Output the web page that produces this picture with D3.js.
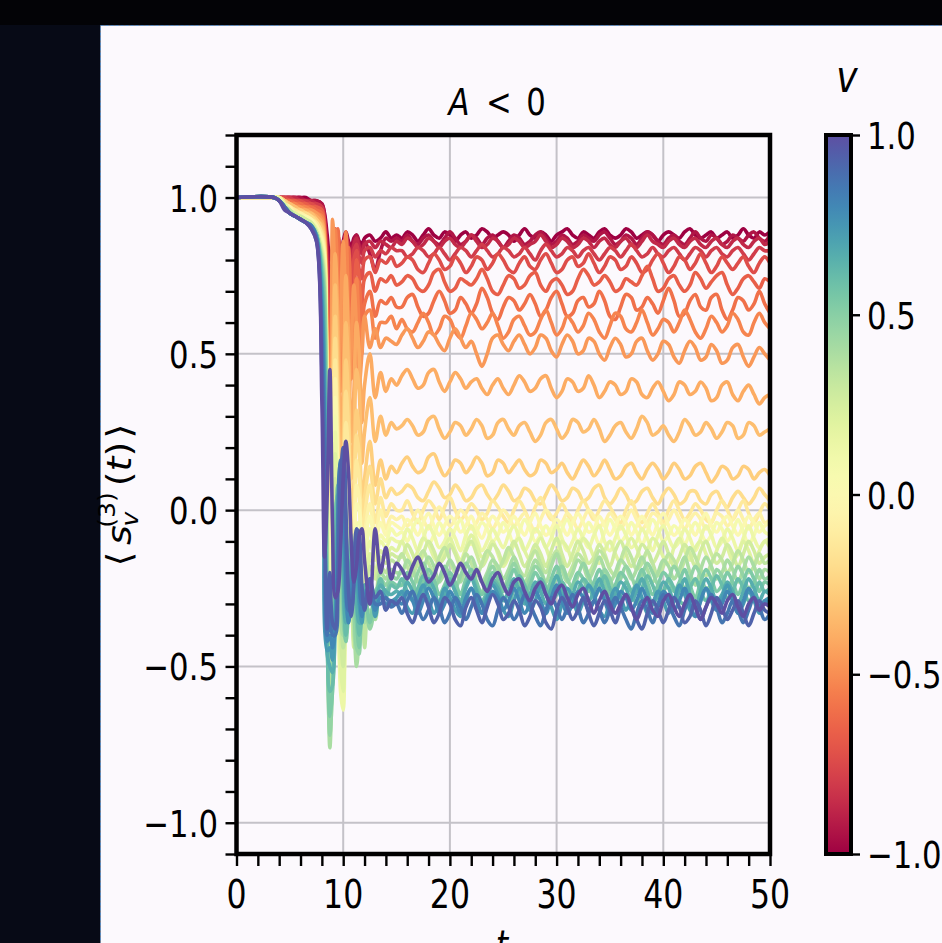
<!DOCTYPE html>
<html>
<head>
<meta charset="utf-8">
<script src="https://cdn.jsdelivr.net/npm/d3@7"></script>
<style>
  html, body { margin: 0; padding: 0; background: #070a16; }
  svg { display: block; }
</style>
</head>
<body>
<svg id="chart" width="942" height="943"></svg>
<script>
// ---- sampling times (t) ----
const times = [0, 3.5, 4, 4.5, 5, 5.5, 6, 6.5, 7, 7.5, 8,
  8.25, 8.5, 8.75, 9, 9.25, 9.5, 9.75, 10, 10.25, 10.5, 10.75, 11, 11.25, 11.5, 11.75, 12,
  12.5, 13, 13.5, 14, 14.5, 15,
  15.5, 16, 16.5, 17, 17.5, 18, 18.5, 19, 19.5, 20,
  20.5, 21, 21.5, 22, 22.5, 23, 23.5, 24, 24.5, 25,
  25.5, 26, 26.5, 27, 27.5, 28, 28.5, 29, 29.5, 30,
  30.5, 31, 31.5, 32, 32.5, 33, 33.5, 34, 34.5, 35,
  35.5, 36, 36.5, 37, 37.5, 38, 38.5, 39, 39.5, 40,
  40.5, 41, 41.5, 42, 42.5, 43, 43.5, 44, 44.5, 45,
  45.5, 46, 46.5, 47, 47.5, 48, 48.5, 49, 49.5, 50];

// ---- velocity of each trace (colour) ----
const vValues = [-1.000, -0.933, -0.867, -0.800, -0.733, -0.667, -0.600, -0.533, -0.467, -0.400,
  -0.333, -0.267, -0.200, -0.133, -0.067, 0.000, 0.067, 0.133, 0.200, 0.267,
  0.333, 0.400, 0.467, 0.533, 0.600, 0.667, 0.733, 0.800, 0.867, 0.933, 1.000];

// ---- <s_v^(3)(t)> in hundredths: onset, t = 0 .. 8 ----
const onset = [
  [100,100,100,100,100,100,100,100,99,99,98],
  [100,100,100,100,100,100,100,99,99,99,98],
  [100,100,100,100,100,100,99,99,99,98,97],
  [100,100,100,100,100,99,99,99,98,98,97],
  [100,100,100,100,99,99,99,98,98,97,96],
  [100,100,100,99,99,99,98,98,97,97,96],
  [100,100,100,99,99,98,98,97,97,96,95],
  [100,100,100,99,98,98,97,97,96,95,94],
  [100,100,100,99,98,97,97,96,96,95,93],
  [100,100,100,99,98,97,96,96,95,94,92],
  [100,100,100,99,98,97,96,95,95,93,91],
  [100,100,100,99,97,96,96,95,94,93,90],
  [100,100,100,98,97,96,95,95,94,92,89],
  [100,100,100,98,97,96,95,94,93,92,88],
  [100,100,100,98,97,95,95,94,93,91,87],
  [100,100,100,98,96,95,94,94,93,91,86],
  [100,100,100,98,96,95,94,93,92,90,85],
  [100,100,100,98,96,95,94,93,92,90,84],
  [100,100,99,98,96,95,94,93,92,89,83],
  [100,100,99,97,96,94,94,93,92,89,82],
  [100,100,99,97,96,94,93,92,91,89,81],
  [100,100,99,97,95,94,93,92,91,88,80],
  [100,100,99,97,95,94,93,92,91,88,79],
  [100,100,99,97,95,94,93,92,91,88,77],
  [100,100,99,97,95,94,93,92,91,88,75],
  [100,100,99,97,95,94,93,92,91,88,72],
  [100,100,99,97,95,94,93,92,91,87,68],
  [100,100,99,97,95,94,93,92,91,87,62],
  [100,100,99,97,95,94,93,92,91,87,55],
  [100,100,99,97,95,94,93,92,90,86,45],
  [100,100,99,96,95,94,93,92,90,86,35]
];

// ---- ringing after the quench, t = 8.25 .. 15 ----
const ring = [
  [95,88,80,84,90,88,83,86,89,86,84,87,88,86,85,87,88,86,87,89,87,88],
  [94,84,74,80,89,87,80,84,88,85,82,86,88,85,83,86,82,77,83,87,86,87],
  [93,80,68,76,88,86,77,82,88,84,80,85,87,84,82,85,86,84,86,85,84,86],
  [92,75,60,70,86,85,73,79,87,82,77,83,85,81,79,83,84,81,83,82,84,83],
  [91,70,52,64,84,86,70,74,85,80,72,80,83,77,74,80,81,76,80,79,81,78],
  [90,64,42,58,82,88,68,62,80,82,66,70,80,74,66,74,76,70,74,73,75,72],
  [89,58,32,48,80,90,66,50,72,84,62,56,74,72,58,66,70,62,67,66,68,65],
  [88,52,22,55,90,74,38,62,89,64,42,62,74,58,50,62,64,55,60,60,62,58],
  [87,45,40,93,70,30,60,86,62,34,52,72,58,40,50,62,52,58,52,55,54,53],
  [86,40,10,50,82,60,18,40,75,55,22,38,60,50,28,40,50,36,44,38,42,40],
  [85,35,-5,40,72,45,2,25,60,45,10,22,45,38,15,25,36,22,30,24,28,26],
  [84,30,-15,30,62,35,-12,10,48,35,-5,8,32,25,2,10,22,8,16,10,14,12],
  [83,25,-25,20,55,25,-22,0,38,26,-12,0,24,18,-4,4,14,2,10,4,7,5],
  [82,20,-32,10,48,15,-30,-12,28,18,-20,-8,16,10,-10,-2,8,-4,4,-2,2,0],
  [81,15,-38,2,42,8,-38,-25,20,12,-25,-15,8,4,-15,-8,2,-8,0,-6,-2,-3],
  [80,10,-42,-6,36,2,-45,-40,10,8,-28,-22,2,0,-20,-12,-2,-10,-4,-8,-4,-5],
  [79,5,-46,-12,30,-4,-52,-55,0,4,-30,-30,-5,-4,-24,-16,-6,-14,-8,-10,-6,-8],
  [78,0,-50,-18,25,-8,-58,-64,-10,0,-30,-36,-12,-8,-28,-22,-10,-16,-10,-12,-9,-10],
  [76,-8,-56,-26,18,-6,-50,-58,-20,-6,-26,-42,-22,-12,-30,-30,-14,-20,-13,-15,-12,-13],
  [74,-15,-62,-34,10,-4,-40,-50,-30,-10,-20,-44,-34,-18,-30,-38,-18,-22,-15,-17,-14,-15],
  [72,-22,-68,-42,2,0,-30,-44,-36,-14,-14,-40,-46,-26,-28,-44,-24,-28,-18,-20,-16,-17],
  [70,-30,-76,-50,-8,5,-20,-40,-40,-18,-10,-34,-50,-40,-28,-36,-32,-35,-20,-22,-19,-20],
  [68,-36,-72,-56,-16,8,-12,-36,-42,-22,-8,-28,-44,-46,-30,-30,-38,-30,-22,-24,-21,-22],
  [65,-40,-66,-58,-22,8,-4,-30,-42,-26,-10,-22,-36,-44,-32,-26,-36,-26,-24,-26,-23,-24],
  [55,-42,-58,-56,-28,5,4,-22,-40,-30,-12,-18,-30,-40,-34,-24,-30,-28,-22,-28,-24,-25],
  [45,-46,-50,-52,-32,0,10,-12,-36,-34,-16,-14,-24,-36,-36,-24,-28,-32,-24,-26,-27,-26],
  [35,-45,-44,-48,-35,-6,14,-2,-30,-36,-22,-12,-18,-30,-36,-26,-26,-34,-26,-28,-29,-28],
  [25,-42,-40,-44,-38,-12,16,8,-22,-36,-28,-14,-12,-24,-34,-28,-24,-32,-28,-30,-30,-29],
  [12,-40,-34,-40,-40,-18,15,16,-12,-32,-32,-18,-8,-16,-30,-30,-22,-30,-30,-28,-31,-30],
  [0,-38,-20,-36,-38,-24,10,20,0,-26,-34,-24,-6,-8,-24,-32,-22,-28,-26,-32,-29,-30],
  [-15,5,45,-5,-28,-26,-12,10,22,12,-10,-23,-18,-8,-6,-16,-30,-6,-20,-12,-22,-17]
];

// ---- fluctuating plateau, t = 15.5 .. 50 ----
const plateau = [
  [87,89,88,86,88,90,88,87,89,88, 86,88,89,87,88,90,89,87,88,89, 88,86,88,90,88,87,89,88,86,88, 89,90,88,87,89,88,87,89,90,88, 87,88,90,89,87,88,89,88,86,88, 89,88,87,89,90,88,87,88,89,87, 88,89,87,88,90,88,87,89,88,89],
  [86,88,86,85,87,88,86,85,87,89, 87,85,86,88,87,85,87,88,86,84, 86,88,87,85,86,88,89,87,85,86, 88,87,85,86,88,87,86,88,89,87, 85,86,88,87,85,87,89,88,86,85, 87,88,86,85,87,89,87,86,88,87, 85,86,88,87,86,88,89,87,86,88],
  [85,87,86,84,85,87,86,84,86,87, 85,84,86,88,86,84,85,87,86,84, 85,87,86,84,85,86,88,86,84,85, 87,86,84,85,87,86,84,86,87,85, 84,86,87,85,84,86,88,86,85,84, 86,87,85,84,86,87,85,84,86,87, 85,84,86,87,85,84,86,87,85,86],
  [83,81,82,84,83,81,82,84,82,80, 82,84,83,81,83,85,83,81,82,84, 83,81,82,84,82,80,83,85,83,81, 82,84,83,81,83,84,82,80,82,84, 83,81,83,85,83,81,82,84,82,81, 83,84,82,80,82,84,83,81,83,84, 82,81,83,84,82,80,82,84,83,83],
  [79,81,80,77,76,79,82,80,77,78, 81,79,76,78,81,80,77,79,82,80, 77,76,79,81,78,77,80,82,79,76, 77,80,81,78,79,82,79,76,78,81, 80,77,78,81,79,76,77,80,82,79, 76,78,81,80,77,79,82,79,76,78, 81,79,77,79,81,78,76,79,81,79],
  [73,75,74,71,70,72,76,77,73,70, 71,74,73,72,74,77,74,70,69,72, 75,74,71,72,75,76,72,70,73,74, 72,69,70,74,77,75,72,73,75,73, 70,71,74,73,72,75,78,74,70,71, 74,75,72,70,72,76,74,71,73,75, 76,72,69,71,74,75,73,71,74,73],
  [65,68,69,65,62,63,67,70,67,63, 64,68,66,63,66,71,68,63,61,65, 68,67,64,66,69,66,62,64,68,70, 66,62,63,67,68,65,66,70,67,62, 61,65,69,68,64,65,68,66,63,67, 71,67,62,63,67,69,65,64,68,69, 64,61,64,68,67,64,66,70,66,63],
  [61,58,57,60,63,60,56,58,62,61, 57,55,59,63,61,58,60,63,59,55, 57,61,62,59,56,57,61,64,60,56, 58,62,60,57,59,63,61,57,55,59, 63,62,58,57,60,64,60,56,58,61, 60,57,60,64,61,57,55,58,62,60, 57,59,63,61,57,56,60,63,60,58],
  [56,58,55,52,54,57,56,53,51,55, 58,55,52,54,50,46,50,55,56,53, 51,54,56,53,50,52,56,55,51,49, 53,56,54,50,51,55,54,50,48,52, 55,53,49,50,54,55,51,48,50,54, 53,49,47,51,54,52,48,49,53,51, 47,48,52,53,49,46,49,52,50,48],
  [43,45,42,39,40,44,45,41,38,41, 44,42,39,41,42,39,37,40,42,39, 37,40,43,41,38,39,42,43,39,36, 38,42,41,38,39,43,40,36,38,41, 40,37,38,42,41,37,36,39,41,38, 35,37,41,40,37,38,41,39,35,36, 40,41,37,35,38,40,37,34,36,37],
  [27,29,27,24,25,29,30,26,23,25, 28,27,24,26,29,27,23,24,28,29, 26,24,27,28,25,22,24,28,29,26, 23,25,29,28,25,26,29,26,22,24, 27,28,25,23,26,30,28,24,25,27, 24,22,25,29,27,24,25,28,26,23, 25,28,27,23,24,28,27,24,25,26],
  [15,17,14,12,13,17,18,14,11,13, 16,15,12,14,17,15,11,12,16,15, 12,14,16,13,11,12,16,15,12,13, 15,12,10,13,16,14,11,13,16,13, 10,11,14,15,12,10,13,15,13,10, 12,15,13,10,11,14,15,12,9,11, 14,13,10,11,14,13,10,12,13,11],
  [6,8,7,4,3,6,9,7,4,5, 8,6,3,4,7,8,5,3,5,8, 6,3,4,7,6,3,2,5,8,6, 3,4,7,6,3,4,7,8,4,2, 4,7,5,2,3,6,7,4,2,5, 7,5,2,3,6,6,3,2,5,6, 3,1,4,6,4,2,4,7,5,3],
  [0,3,-1,-4,0,3,1,-3,1,4, 0,-3,-1,2,0,-3,-1,3,1,-2, -4,0,3,0,-3,1,4,0,-3,-1, 2,-1,-4,0,3,0,-3,0,3,1, -2,-4,0,3,-1,-4,-1,2,-1,-4, 0,3,0,-3,-1,2,0,-3,-4,0, 3,0,-3,0,3,-1,-4,-1,2,0],
  [-2,-5,-3,0,-3,-6,-2,1,-2,-5, -3,0,-2,-6,-4,-1,-3,-6,-3,0, -2,-5,-3,-1,-4,-7,-3,0,-2,-5, -4,-1,-3,-6,-3,0,-2,-5,-4,-1, -3,-6,-3,0,-3,-6,-4,-1,-2,-5, -3,0,-3,-6,-3,-1,-3,-6,-4,-1, -2,-5,-3,0,-3,-6,-3,-1,-4,-3],
  [-6,-3,-5,-8,-4,-1,-5,-8,-5,-2, -4,-7,-5,-2,-6,-9,-5,-2,-4,-7, -5,-2,-5,-8,-4,-1,-5,-8,-6,-3, -5,-8,-4,-1,-4,-7,-6,-2,-5,-8, -5,-2,-4,-8,-5,-2,-5,-8,-4,-1, -5,-8,-6,-3,-5,-8,-4,-1,-5,-7, -4,-2,-5,-8,-5,-2,-4,-7,-5,-4],
  [-7,-10,-6,-3,-7,-11,-8,-4,-7,-10, -6,-3,-8,-11,-7,-4,-6,-10,-8,-4, -7,-11,-7,-3,-6,-10,-8,-5,-8,-11, -6,-3,-7,-10,-8,-4,-7,-11,-7,-3, -6,-10,-8,-4,-7,-11,-7,-3,-6,-10, -8,-5,-7,-11,-7,-4,-7,-10,-8,-4, -6,-10,-7,-3,-7,-11,-8,-4,-7,-8],
  [-10,-6,-9,-13,-9,-5,-8,-12,-10,-6, -9,-13,-8,-5,-9,-13,-10,-6,-9,-12, -8,-5,-9,-13,-10,-6,-8,-12,-9,-5, -9,-13,-10,-6,-9,-12,-8,-5,-10,-13, -9,-5,-8,-12,-10,-6,-9,-13,-8,-5, -9,-12,-10,-6,-9,-13,-9,-5,-8,-12, -10,-6,-9,-13,-9,-5,-9,-12,-10,-9],
  [-10,-14,-17,-13,-9,-11,-15,-17,-12,-9, -13,-16,-12,-8,-11,-15,-13,-10,-14,-18, -15,-11,-9,-13,-16,-12,-9,-12,-16,-14, -10,-12,-16,-13,-9,-11,-15,-17,-13,-10, -14,-17,-12,-9,-12,-16,-13,-9,-11,-15, -17,-12,-9,-13,-16,-12,-10,-14,-17,-13, -9,-12,-16,-14,-10,-13,-17,-13,-10,-12],
  [-15,-11,-14,-18,-14,-10,-13,-17,-15,-11, -14,-18,-13,-10,-14,-18,-15,-11,-13,-17, -14,-10,-14,-18,-15,-11,-14,-18,-13,-9, -14,-18,-14,-10,-13,-17,-15,-11,-14,-18, -13,-10,-14,-18,-15,-11,-13,-17,-14,-10, -14,-18,-15,-11,-14,-18,-13,-10,-14,-17, -15,-11,-14,-18,-14,-10,-13,-17,-15,-14],
  [-14,-18,-21,-16,-13,-17,-20,-15,-12,-16, -20,-18,-14,-17,-21,-17,-13,-15,-19,-16, -12,-15,-19,-21,-16,-13,-17,-20,-16,-13, -17,-21,-18,-14,-16,-20,-17,-13,-15,-19, -21,-16,-12,-15,-19,-17,-13,-17,-21,-18, -14,-16,-20,-16,-12,-15,-19,-21,-17,-14, -16,-20,-17,-13,-16,-20,-18,-14,-17,-16],
  [-20,-16,-19,-23,-19,-15,-18,-23,-20,-16, -19,-23,-18,-15,-19,-23,-20,-16,-18,-22, -19,-15,-19,-23,-20,-16,-19,-23,-18,-14, -19,-23,-20,-16,-18,-22,-19,-15,-19,-23, -20,-16,-18,-22,-19,-15,-19,-23,-20,-16, -18,-22,-19,-15,-20,-24,-19,-15,-18,-22, -20,-16,-19,-23,-19,-15,-18,-22,-19,-20],
  [-19,-23,-25,-20,-17,-21,-25,-22,-18,-21, -25,-21,-17,-20,-24,-26,-21,-18,-22,-25, -21,-17,-21,-25,-22,-18,-20,-24,-26,-21, -18,-22,-25,-21,-17,-21,-25,-23,-19,-22, -26,-22,-18,-21,-25,-21,-17,-20,-24,-26, -22,-18,-21,-25,-22,-18,-21,-25,-24,-19, -21,-25,-22,-18,-21,-25,-23,-19,-22,-21],
  [-24,-20,-23,-27,-23,-19,-22,-27,-24,-20, -23,-27,-22,-19,-23,-27,-24,-20,-22,-26, -23,-19,-23,-27,-24,-20,-23,-27,-22,-18, -23,-27,-24,-20,-22,-26,-23,-19,-23,-27, -24,-20,-22,-26,-23,-19,-23,-27,-24,-20, -22,-26,-23,-19,-24,-28,-23,-19,-22,-26, -24,-20,-23,-27,-23,-19,-22,-26,-23,-24],
  [-22,-26,-29,-25,-21,-24,-28,-30,-25,-22, -26,-29,-24,-21,-25,-29,-26,-22,-24,-28, -30,-25,-21,-24,-28,-26,-22,-25,-29,-27, -23,-26,-30,-26,-22,-24,-28,-25,-21,-25, -29,-27,-23,-26,-30,-25,-21,-24,-28,-26, -22,-25,-29,-30,-25,-22,-26,-29,-25,-21, -24,-28,-26,-22,-25,-29,-27,-23,-26,-25],
  [-27,-23,-26,-30,-26,-22,-25,-30,-27,-23, -26,-30,-25,-22,-26,-30,-27,-23,-25,-29, -26,-22,-26,-30,-27,-23,-26,-30,-25,-21, -26,-30,-27,-23,-25,-29,-26,-22,-26,-30, -27,-23,-25,-29,-26,-22,-26,-30,-27,-23, -25,-29,-26,-22,-27,-31,-26,-22,-25,-29, -27,-23,-26,-30,-26,-22,-25,-29,-26,-27],
  [-26,-31,-33,-28,-24,-28,-33,-30,-25,-28, -32,-34,-29,-25,-29,-33,-28,-24,-27,-32, -34,-29,-25,-28,-32,-29,-24,-27,-31,-35, -30,-25,-28,-33,-29,-24,-27,-32,-34,-29, -25,-28,-32,-28,-24,-28,-33,-30,-26,-29, -33,-29,-24,-27,-32,-34,-29,-25,-29,-32, -28,-24,-28,-33,-30,-26,-29,-33,-29,-28],
  [-30,-26,-29,-33,-29,-25,-28,-33,-30,-26, -29,-33,-28,-25,-29,-33,-30,-26,-28,-32, -29,-25,-29,-33,-30,-26,-29,-33,-28,-24, -29,-33,-30,-26,-28,-32,-29,-25,-29,-33, -30,-26,-28,-32,-29,-25,-29,-33,-30,-26, -28,-32,-29,-25,-30,-34,-29,-25,-28,-32, -30,-26,-29,-33,-29,-25,-28,-32,-29,-30],
  [-33,-29,-26,-31,-35,-32,-28,-31,-36,-33, -28,-31,-35,-31,-27,-30,-35,-37,-32,-28, -31,-35,-32,-27,-30,-34,-37,-32,-28,-31, -35,-31,-27,-31,-36,-33,-29,-32,-36,-32, -28,-31,-35,-38,-33,-29,-32,-36,-31,-27, -30,-34,-37,-32,-28,-31,-35,-31,-27,-31, -36,-33,-29,-32,-36,-32,-28,-31,-35,-33],
  [-28,-33,-36,-31,-27,-31,-36,-33,-28,-30, -35,-37,-31,-28,-32,-36,-31,-27,-30,-35, -33,-29,-32,-37,-34,-29,-31,-36,-38,-32, -28,-31,-35,-32,-28,-33,-37,-33,-29,-32, -36,-31,-27,-31,-35,-38,-33,-29,-32,-36, -32,-28,-31,-36,-34,-29,-32,-37,-33,-28, -31,-35,-32,-29,-33,-37,-33,-29,-32,-33],
  [-19,-22,-18,-15,-19,-23,-21,-17,-20,-24, -21,-17,-20,-22,-19,-23,-26,-22,-20,-24, -27,-23,-22,-26,-29,-25,-23,-27,-30,-26, -24,-28,-31,-27,-25,-29,-33,-29,-26,-30, -33,-30,-27,-31,-35,-31,-28,-32,-34,-29, -27,-31,-34,-30,-27,-31,-35,-31,-28,-30, -33,-29,-27,-31,-34,-30,-28,-32,-30,-31]
];

// ---- axis ticks ----
const xMajor = [0, 10, 20, 30, 40, 50];
const yMajor = [-1.0, -0.5, 0.0, 0.5, 1.0];
const cbTicks = [-1.0, -0.5, 0.0, 0.5, 1.0];

// ---------------------------------------------------------------
const series = vValues.map((v, i) => ({
  v,
  values: onset[i].concat(ring[i], plateau[i]).map(d => d / 100)
}));

const svg = d3.select('#chart')
  .attr('font-family', '"DejaVu Sans", sans-serif');

// page and figure background
svg.append('rect').attr('width', 942).attr('height', 943).attr('fill', '#070a16');
svg.append('rect').attr('width', 942).attr('height', 25).attr('fill', '#030306');
svg.append('rect')
  .attr('x', 100.5).attr('y', 25.5).attr('width', 860).attr('height', 940)
  .attr('fill', '#fcf9fd')
  .attr('stroke', '#5a8cc4').attr('stroke-width', 1).attr('stroke-dasharray', '3,2');

const X0 = 236.5, X1 = 770, Y0 = 135, Y1 = 854;
const x = d3.scaleLinear().domain([0, 50]).range([X0, X1]);
const y = d3.scaleLinear().domain([-1.1, 1.2]).range([Y1, Y0]);
const color = d3.scaleSequential(d3.interpolateSpectral).domain([-1, 1]);

const SX = 0.82; // horizontal glyph compression of the figure text
function stext(parent, px, py, str, opt = {}) {
  const g = parent.append('g').attr('transform', `translate(${px},${py}) scale(${SX},1)`);
  return g.append('text')
    .attr('text-anchor', opt.anchor || 'middle')
    .attr('font-size', opt.size || 37.5)
    .attr('font-style', opt.italic ? 'italic' : 'normal')
    .attr('fill', '#000')
    .text(str);
}
const fmt = v => (v < 0 ? '\u2212' : '') + Math.abs(v).toFixed(1);

// grid
const grid = svg.append('g').attr('stroke', '#c4c2c8').attr('stroke-width', 2);
grid.selectAll('.gx').data(xMajor.filter(d => d > 0 && d < 50)).join('line')
  .attr('x1', d => x(d)).attr('x2', d => x(d)).attr('y1', Y0).attr('y2', Y1);
grid.selectAll('.gy').data(yMajor).join('line')
  .attr('y1', d => y(d)).attr('y2', d => y(d)).attr('x1', X0).attr('x2', X1);

// traces
svg.append('clipPath').attr('id', 'plotclip')
  .append('rect').attr('x', X0).attr('y', Y0).attr('width', X1 - X0).attr('height', Y1 - Y0);

const line = d3.line()
  .x((d, j) => x(times[j]))
  .y(d => y(d))
  .curve(d3.curveCatmullRom.alpha(0.5));

svg.append('g').attr('clip-path', 'url(#plotclip)')
  .selectAll('path').data(series).join('path')
  .attr('d', d => line(d.values))
  .attr('fill', 'none')
  .attr('stroke', d => color(d.v))
  .attr('stroke-width', 3.6)
  .attr('stroke-linejoin', 'round');

// ticks (major + minor, same length)
const xAx = svg.append('g').attr('transform', `translate(0,${Y1})`)
  .call(d3.axisBottom(x).tickValues(d3.range(0, 51, 2)).tickSize(12).tickFormat(''));
const yAx = svg.append('g').attr('transform', `translate(${X0},0)`)
  .call(d3.axisLeft(y).tickValues(d3.range(-11, 13).map(d => d / 10)).tickSize(11).tickFormat(''));
[xAx, yAx].forEach(a => {
  a.select('.domain').remove();
  a.selectAll('line').attr('stroke', '#000').attr('stroke-width', 2.4);
});

// frame
svg.append('rect')
  .attr('x', X0).attr('y', Y0).attr('width', X1 - X0).attr('height', Y1 - Y0)
  .attr('fill', 'none').attr('stroke', '#000').attr('stroke-width', 4.5);

// tick labels
yMajor.forEach(v => stext(svg, 218, y(v) + 14, fmt(v), { anchor: 'end' }));
xMajor.forEach(t => stext(svg, x(t), 908, String(t), { size: 38.5 }));

// title
const title = svg.append('g').attr('transform', `translate(0,115) scale(${SX},1)`)
  .append('text').attr('font-size', 37.5).attr('text-anchor', 'middle');
title.append('tspan').attr('x', 459 / SX).attr('font-style', 'italic').text('A');
title.append('tspan').attr('x', 499 / SX).text('<');
title.append('tspan').attr('x', 536 / SX).text('0');

// axis labels
stext(svg, 502, 958, 't', { size: 38.5, italic: true });

const yl = svg.append('g').attr('transform', 'translate(131,572) rotate(-90) scale(1,0.9)')
  .append('text').attr('font-size', 38).attr('text-anchor', 'middle');
yl.append('tspan').attr('x', 13).text('\u27E8');
yl.append('tspan').attr('x', 37).attr('font-style', 'italic').text('s');
yl.append('tspan').attr('x', 53).attr('dy', 8).attr('font-size', 25).attr('font-style', 'italic').text('v');
yl.append('tspan').attr('x', 62).attr('dy', -26).attr('font-size', 25).text('(3)');
yl.append('tspan').attr('x', 108).attr('dy', 18).text('(').append('tspan').attr('font-style', 'italic').text('t');
yl.select('tspan:last-child').append('tspan').text(')');
yl.append('tspan').attr('x', 141).text('\u27E9');

// colour bar
const CB0 = 826, CBW = 25;
const cy = d3.scaleLinear().domain([-1, 1]).range([Y1, Y0]);
const grad = svg.append('defs').append('linearGradient')
  .attr('id', 'cbgrad').attr('x1', 0).attr('y1', 1).attr('x2', 0).attr('y2', 0);
d3.range(0, 1.0001, 0.025).forEach(s => {
  grad.append('stop').attr('offset', s).attr('stop-color', d3.interpolateSpectral(s));
});
svg.append('rect')
  .attr('x', CB0).attr('y', Y0).attr('width', CBW).attr('height', Y1 - Y0)
  .attr('fill', 'url(#cbgrad)').attr('stroke', '#000').attr('stroke-width', 4);
const cbAx = svg.append('g').attr('transform', `translate(${CB0 + CBW},0)`)
  .call(d3.axisRight(cy).tickValues(cbTicks).tickSize(9).tickFormat(''));
cbAx.select('.domain').remove();
cbAx.selectAll('line').attr('stroke', '#000').attr('stroke-width', 2.4);
cbTicks.forEach(v => stext(svg, 867, cy(v) + 14, fmt(v), { anchor: 'start' }));
stext(svg, 847, 92, 'v', { size: 44, italic: true });
</script>
</body>
</html>
